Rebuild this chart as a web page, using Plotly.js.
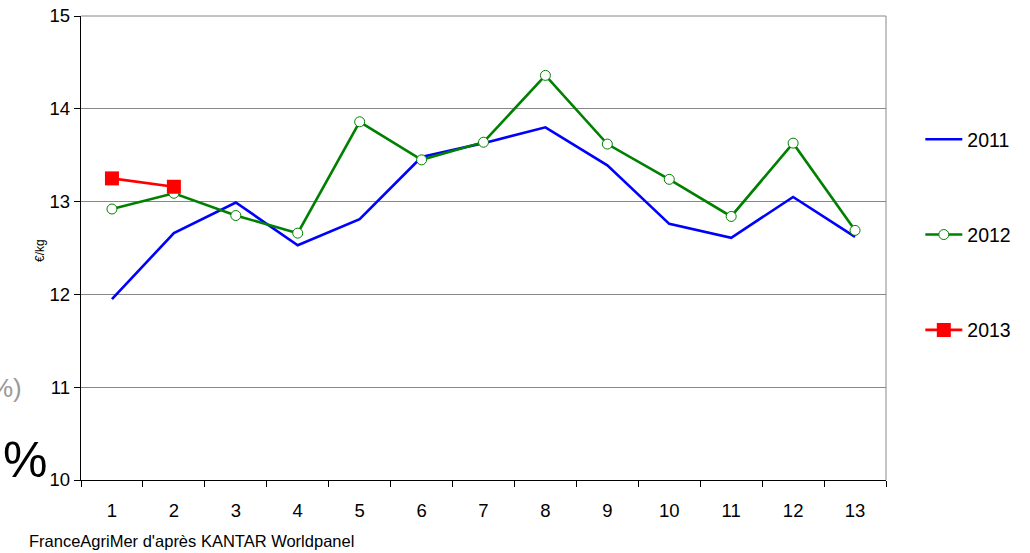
<!DOCTYPE html>
<html>
<head>
<meta charset="utf-8">
<script src="https://cdn.plot.ly/plotly-3.0.1.min.js"></script>
<style>html,body{margin:0;padding:0;background:#fff;}#chart{width:1030px;height:553px;}</style>
</head>
<body>
<div id="chart"></div>
<script>
const periods = ['1','2','3','4','5','6','7','8','9','10','11','12','13'];
const values2011 = [11.95, 12.66, 12.99, 12.53, 12.81, 13.48, 13.63, 13.80, 13.39, 12.76, 12.61, 13.05, 12.62];
const values2012 = [12.92, 13.09, 12.85, 12.66, 13.86, 13.45, 13.64, 14.36, 13.62, 13.24, 12.84, 13.63, 12.69];
const values2013 = [13.25, 13.16];
const yTicks = [10, 11, 12, 13, 14, 15];
const unitLabel = '€/kg';
const sourceText = "FranceAgriMer d'après KANTAR Worldpanel";

const W = 1030, H = 553;
const L = 81, R = 885.7, T = 16, B = 480;
const pw = R - L, ph = B - T;
const px = v => (v - L) / pw;
const py = v => (B - v) / ph;
const font = 'Liberation Sans, Arial, sans-serif';

const traces = [
  {x: periods, y: values2011, name: '2011', type: 'scatter', mode: 'lines',
   line: {color: '#0000FF', width: 2.6}, legendgroup: 'a'},
  {x: periods, y: values2012, name: '2012', type: 'scatter', mode: 'lines+markers',
   line: {color: '#008000', width: 2.6},
   marker: {symbol: 'circle', size: 10, color: '#FFFFFF', line: {color: '#008000', width: 1}}, legendgroup: 'b'},
  {x: periods.slice(0, values2013.length), y: values2013, name: '2013', type: 'scatter', mode: 'lines+markers',
   line: {color: '#FF0000', width: 2.6},
   marker: {symbol: 'square', size: 14, color: '#FF0000'}, legendgroup: 'c'}
];

const layout = {
  width: W, height: H,
  margin: {l: L, r: W - R, t: T, b: H - B, pad: 0},
  paper_bgcolor: '#FFFFFF', plot_bgcolor: '#FFFFFF',
  font: {family: font, size: 18.5, color: '#000'},
  showlegend: true,
  legend: {x: px(920), y: py(120), xanchor: 'left', yanchor: 'top',
           font: {family: font, size: 19.5, color: '#000'},
           itemwidth: 37,
           tracegroupgap: 67, bgcolor: 'rgba(0,0,0,0)', borderwidth: 0},
  xaxis: {type: 'category', categoryorder: 'array', categoryarray: periods,
          range: [-0.5, periods.length - 0.5], tickson: 'boundaries',
          ticks: 'outside', ticklen: 6, tickcolor: '#000', tickwidth: 1,
          showline: true, linecolor: '#000', linewidth: 1.3,
          showgrid: false, zeroline: false,
          tickfont: {family: font, size: 18.5, color: '#000'}, ticklabelstandoff: 13},
  yaxis: {range: [10, 15], tickvals: yTicks, ticktext: yTicks.map(String),
          ticks: 'outside', ticklen: 6, tickcolor: '#000', tickwidth: 1,
          showline: true, linecolor: '#000', linewidth: 1.3,
          showgrid: true, gridcolor: '#888888', gridwidth: 1, zeroline: false,
          tickfont: {family: font, size: 18.5, color: '#000'}},
  shapes: [
    {type: 'line', xref: 'paper', yref: 'paper', x0: 0, x1: 1, y0: 1, y1: 1, line: {color: '#888888', width: 1}},
    {type: 'line', xref: 'paper', yref: 'paper', x0: 1, x1: 1, y0: 0, y1: 1, line: {color: '#888888', width: 1}}
  ],
  annotations: [
    {text: unitLabel, xref: 'paper', yref: 'paper', x: px(31), y: py(250), textangle: -90,
     showarrow: false, font: {family: font, size: 12, color: '#000'}},
    {text: sourceText, xref: 'paper', yref: 'paper', x: px(27), y: py(541), xanchor: 'left', yanchor: 'middle',
     showarrow: false, font: {family: font, size: 16.5, color: '#000'}},
    {text: '%', xref: 'paper', yref: 'paper', x: px(25), y: py(460), xanchor: 'center', yanchor: 'middle',
     showarrow: false, font: {family: font, size: 50, color: '#000'}},
    {text: '%)', xref: 'paper', yref: 'paper', x: px(24), y: py(388), xanchor: 'right', yanchor: 'middle',
     showarrow: false, font: {family: font, size: 26, color: '#999999'}}
  ]
};

Plotly.newPlot('chart', traces, layout, {displayModeBar: false, staticPlot: true});
</script>
</body>
</html>
